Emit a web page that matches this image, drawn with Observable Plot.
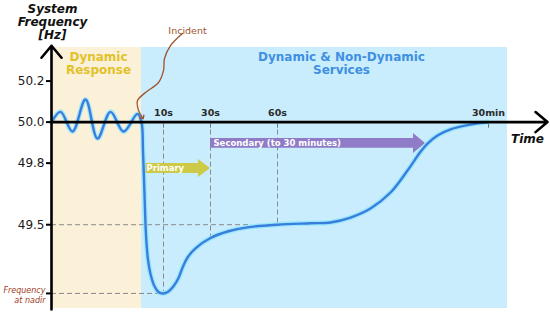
<!DOCTYPE html>
<html>
<head>
<meta charset="utf-8">
<script src="https://cdn.jsdelivr.net/npm/d3@7"></script>
<script src="https://cdn.jsdelivr.net/npm/@observablehq/plot@0.6"></script>
<style>
  html, body { margin: 0; padding: 0; background: #fff; }
  svg { display: block; }
</style>
</head>
<body>
<div id="chart"></div>
<script>
// x: position along the schematic time axis (schematic units), y: system frequency (Hz)
const curvePos = [51, 60, 72, 85, 97, 110, 123, 137, 141, 142.5, 144, 145.5, 147.5, 150, 154, 158, 163, 168, 173, 178, 182, 187, 195, 210, 228, 247, 277, 310, 330, 350, 370, 390, 407, 420, 427, 437, 450, 470, 487];
const curveFreq = [50.0, 50.05, 49.954, 50.11, 49.92, 50.05, 49.954, 50.04, 50.0, 49.86, 49.65, 49.45, 49.33, 49.26, 49.2, 49.172, 49.165, 49.175, 49.2, 49.24, 49.29, 49.34, 49.385, 49.435, 49.468, 49.487, 49.50, 49.507, 49.511, 49.535, 49.579, 49.657, 49.764, 49.855, 49.895, 49.935, 49.965, 49.988, 50.0];

const yTickValues = [50.2, 50.0, 49.8, 49.5];
const yTickLabels = ["50.2", "50.0", "49.8", "49.5"];
const nadirFreq = 49.165;

const timeTickLabels = ["10s", "30s", "60s", "30min"];
const timeTickPos = [163, 210, 277, 488];
const dropFreqAtTick = [49.175, 49.44, 49.50, 50.0];

const regionNames = ["Dynamic\nResponse", "Dynamic & Non-Dynamic\nServices"];
const regionStart = [52, 141];
const regionEnd = [141, 507];
const regionFill = ["#fbf1d9", "#c9edfc"];
const regionTextColor = ["#e2c12a", "#3f8fe2"];
const regionTextPos = [98, 341];

const incidentPos = [182, 170, 164, 163, 158, 145, 137, 138, 142];
const incidentFreq = [50.432, 50.373, 50.310, 50.251, 50.193, 50.144, 50.105, 50.057, 50.022];

// service arrows: start, head base, tip; body half-height and head half-height (Hz)
const services = [
  {name: "Primary", start: 143, headBase: 198, tip: 210, mid: 49.774, body: 0.024, head: 0.044, fill: "#cdca48"},
  {name: "Secondary (to 30 minutes)", start: 210, headBase: 413, tip: 425, mid: 49.896, body: 0.024, head: 0.049, fill: "#8f7bc6"}
];

// axis extents
const axes = [
  {x1: 51, x2: 51, y1: 49.087, y2: 50.372},
  {x1: 51, x2: 547, y1: 50.0, y2: 50.0}
];
const fTop = 50.3635, fBottom = 49.0916;

const curve = curvePos.map((x, i) => ({x, f: curveFreq[i]}));
const incident = incidentPos.map((x, i) => ({x, f: incidentFreq[i]}));
const regions = regionNames.map((name, i) => ({name, x1: regionStart[i], x2: regionEnd[i], y1: fBottom, y2: fTop, fill: regionFill[i], color: regionTextColor[i], tx: regionTextPos[i], ty: 50.287}));
const yTicks = yTickValues.map((v, i) => ({v, label: yTickLabels[i], x1: 46, x2: 51, lx: 44}));
const tTicks = timeTickLabels.map((label, i) => ({label, x: timeTickPos[i], f: dropFreqAtTick[i], top: 50.0, t1: 49.99, t2: 49.97, ly: 50.047}));
const guidesH = [
  {f: 49.5, x1: 51, x2: 250},
  {f: nadirFreq, x1: 51, x2: 163}
];
const arrowShapes = services.flatMap(s => [
  {name: s.name, fill: s.fill, x: s.start, y1: s.mid - s.body, y2: s.mid + s.body},
  {name: s.name, fill: s.fill, x: s.headBase - 0.01, y1: s.mid - s.body, y2: s.mid + s.body},
  {name: s.name, fill: s.fill, x: s.headBase, y1: s.mid - s.head, y2: s.mid + s.head},
  {name: s.name, fill: s.fill, x: s.tip, y1: s.mid, y2: s.mid}
]);
const nadirLabel = [{text: "Frequency\nat nadir", x: 45, f: 49.158}];
const titleLabels = [
  {text: "System\nFrequency\n[Hz]", x: 52, f: 50.49},
  {text: "Time", x: 527, f: 49.92}
];
const incidentLabel = [{text: "Incident", x: 187, f: 50.446}];

const font = "DejaVu Sans, Verdana, sans-serif";

const chart = Plot.plot({
  width: 550,
  height: 313,
  margin: 0,
  style: {fontFamily: font, background: "#fff", overflow: "visible"},
  x: {domain: [0, 550], range: [0, 550], axis: null},
  y: {domain: [49.0, 50.6], range: [326.8, -1.52], axis: null},
  marks: [
    Plot.rect(regions, {x1: "x1", x2: "x2", y1: "y1", y2: "y2", fill: d => d.fill}),
    Plot.text(regions, {x: "tx", y: "ty", text: "name", fill: d => d.color, fontWeight: "bold", fontSize: 12, lineHeight: 1.1}),
    // dashed guides
    Plot.ruleY(guidesH, {y: "f", x1: "x1", x2: "x2", stroke: "#8a8a8a", strokeDasharray: "5,3", strokeWidth: 1}),
    Plot.ruleX(tTicks.filter(d => d.label !== "30min"), {x: "x", y1: "top", y2: "f", stroke: "#8a8a8a", strokeDasharray: "5,3", strokeWidth: 1}),
    // service arrows
    Plot.areaY(arrowShapes, {x: "x", y1: "y1", y2: "y2", z: "name", fill: d => d.fill, curve: "linear"}),
    Plot.text(services, {x: d => d.start + 3, y: "mid", text: "name", textAnchor: "start", fill: "white", fontWeight: "bold", fontSize: 8.5}),
    // frequency curve with a light halo
    Plot.line(curve, {x: "x", y: "f", stroke: "#86e6ff", strokeWidth: 5, strokeOpacity: 0.7, curve: "catmull-rom"}),
    Plot.line(curve, {x: "x", y: "f", stroke: "#3b7ddd", strokeWidth: 2.4, curve: "catmull-rom"}),
    // axes
    Plot.arrow(axes, {x1: "x1", x2: "x2", y1: "y1", y2: "y2", stroke: "#000", strokeWidth: 2.6, headLength: 9, headAngle: 80}),
    Plot.ruleY(yTicks, {y: "v", x1: "x1", x2: "x2", stroke: "#000", strokeWidth: 2}),
    Plot.ruleY([{f: nadirFreq, x1: 46, x2: 51}], {y: "f", x1: "x1", x2: "x2", stroke: "#000", strokeWidth: 2}),
    Plot.text(yTicks, {x: "lx", y: "v", text: "label", textAnchor: "end", fill: "#1a1a1a", fontSize: 12}),
    Plot.ruleX(tTicks, {x: "x", y1: "t1", y2: "t2", stroke: "#777", strokeWidth: 1}),
    Plot.text(tTicks, {x: "x", y: "ly", text: "label", fill: "#2a2a2a", fontWeight: "bold", fontSize: 9.5}),
    Plot.text(nadirLabel, {x: "x", y: "f", text: "text", textAnchor: "end", fill: "#9c3b22", fontStyle: "italic", fontSize: 8, lineHeight: 1.2}),
    Plot.text(titleLabels, {x: "x", y: "f", text: "text", fill: "#111", fontWeight: "bold", fontStyle: "italic", fontSize: 12, lineHeight: 1.08}),
    // incident annotation
    Plot.text(incidentLabel, {x: "x", y: "f", text: "text", fill: "#a0522d", fontSize: 9.5}),
    Plot.line(incident, {x: "x", y: "f", stroke: "#a0522d", strokeWidth: 1.3, curve: "catmull-rom", markerEnd: "arrow"})
  ]
});
document.getElementById("chart").appendChild(chart);
</script>
</body>
</html>
